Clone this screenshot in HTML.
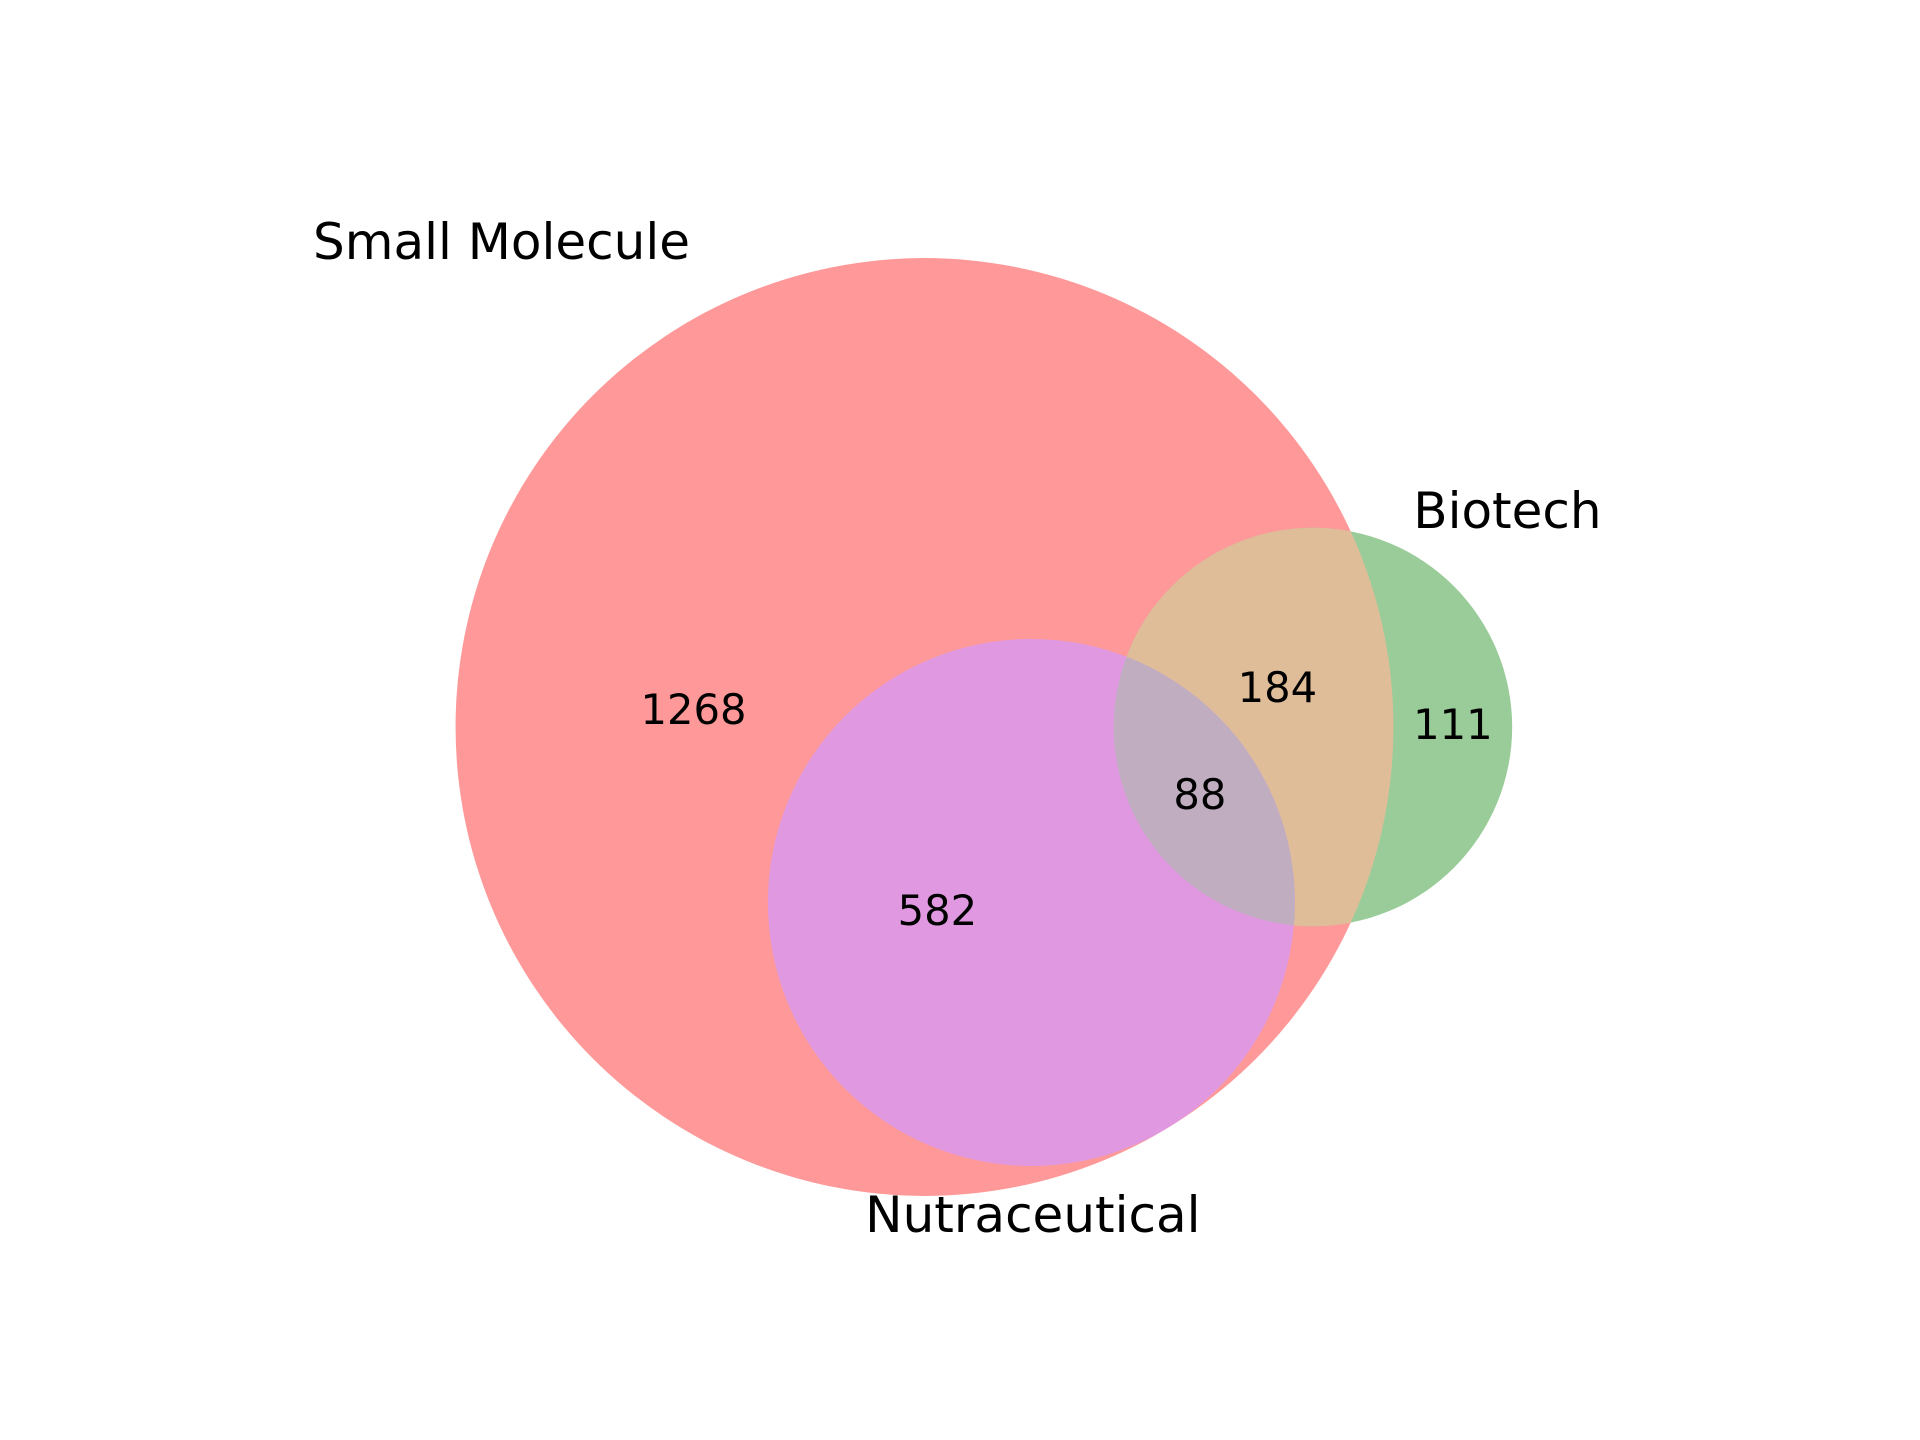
<!DOCTYPE html>
<html lang="en">
<head>
<meta charset="utf-8">
<title>Venn diagram</title>
<style>
html,body{margin:0;padding:0;background:#fff;width:1920px;height:1440px;overflow:hidden}
svg{display:block}
text{font-family:"DejaVu Sans","Liberation Sans",sans-serif;fill:#000}
</style>
</head>
<body>
<svg id="venn" xmlns="http://www.w3.org/2000/svg" width="1920" height="1440" viewBox="0 0 1920 1440"></svg>
<script>
// Chart data: region counts
const setNames = ["Small Molecule", "Biotech", "Nutraceutical"];
const smallMoleculeOnly = 1268;
const biotechOnly = 111;
const smallMoleculeBiotech = 184;
const smallMoleculeNutraceutical = 582;
const allThree = 88;

const svg = document.getElementById('venn');
const NS = 'http://www.w3.org/2000/svg';
const UNIT = 10.18;          // px per sqrt(count)
const ORIGIN_X = 924.5;
const ORIGIN_Y = 727;

function lensArea(r1, r2, d) {
  if (d >= r1 + r2) return 0;
  if (d <= Math.abs(r1 - r2)) return Math.PI * Math.min(r1, r2) ** 2;
  const x1 = (d * d + r1 * r1 - r2 * r2) / (2 * d);
  const x2 = d - x1;
  const seg = (r, x) => r * r * Math.acos(x / r) - x * Math.sqrt(r * r - x * x);
  return seg(r1, x1) + seg(r2, x2);
}
function radiusFor(count) {
  return UNIT * Math.sqrt(count);
}
function distanceFor(r1, r2, overlapCount) {
  const target = overlapCount * Math.PI * UNIT * UNIT;
  let lo = Math.abs(r1 - r2), hi = r1 + r2;
  for (let i = 0; i < 60; i++) {
    const mid = (lo + hi) / 2;
    if (lensArea(r1, r2, mid) > target) lo = mid; else hi = mid;
  }
  return (lo + hi) / 2;
}

const totalA = smallMoleculeOnly + smallMoleculeBiotech + smallMoleculeNutraceutical + allThree;
const totalB = biotechOnly + smallMoleculeBiotech + allThree;
const totalC = smallMoleculeNutraceutical + allThree;

const rA = radiusFor(totalA), rB = radiusFor(totalB), rC = radiusFor(totalC);
const dAB = distanceFor(rA, rB, smallMoleculeBiotech + allThree);
const dAC = distanceFor(rA, rC, smallMoleculeNutraceutical + allThree);
const dBC = distanceFor(rB, rC, allThree);

const A = { x: ORIGIN_X, y: ORIGIN_Y, r: rA };
const B = { x: ORIGIN_X + dAB, y: ORIGIN_Y, r: rB };
const cxOffset = (dAC * dAC + dAB * dAB - dBC * dBC) / (2 * dAB);
const cyOffset = Math.sqrt(Math.max(0, dAC * dAC - cxOffset * cxOffset));
const C = { x: ORIGIN_X + cxOffset, y: ORIGIN_Y + cyOffset, r: rC };

function circle(parent, c, fill, clip) {
  const el = document.createElementNS(NS, 'circle');
  el.setAttribute('cx', c.x);
  el.setAttribute('cy', c.y);
  el.setAttribute('r', c.r);
  if (fill) el.setAttribute('fill', fill);
  if (clip) el.setAttribute('clip-path', 'url(#' + clip + ')');
  parent.appendChild(el);
  return el;
}
function label(str, x, y, size) {
  const el = document.createElementNS(NS, 'text');
  el.setAttribute('x', x);
  el.setAttribute('y', y);
  el.setAttribute('font-size', size);
  el.setAttribute('text-anchor', 'middle');
  el.textContent = str;
  svg.appendChild(el);
  return el;
}

const defs = document.createElementNS(NS, 'defs');
svg.appendChild(defs);
function clipFrom(id, c) {
  const cp = document.createElementNS(NS, 'clipPath');
  cp.setAttribute('id', id);
  circle(cp, c);
  defs.appendChild(cp);
}
clipFrom('clip-a', A);
clipFrom('clip-c', C);

const regionA = circle(svg, A, '#ff9999');



const regionB = circle(svg, B, '#99cc99');



const regionAB = circle(svg, B, '#e0bd99', 'clip-a');



const regionC = circle(svg, C, '#e099e0');



const regionABC = circle(svg, B, '#c0adc0', 'clip-c');



const SET_SIZE = 50;
const COUNT_SIZE = 41.67;

const labelA = label(setNames[0], A.x - 423, A.y - 468, SET_SIZE);



const labelB = label(setNames[1], B.x + 194.5, B.y - 199, SET_SIZE);



const labelC = label(setNames[2], C.x + 1.5, C.y + 329.5, SET_SIZE);



const countA = label(smallMoleculeOnly, A.x - 231, A.y - 3, COUNT_SIZE);



const countB = label(biotechOnly, B.x + 140, B.y + 12, COUNT_SIZE);



const countAB = label(smallMoleculeBiotech, B.x - 35.5, B.y - 25, COUNT_SIZE);



const countAC = label(smallMoleculeNutraceutical, C.x - 94, C.y + 22.5, COUNT_SIZE);



const countABC = label(allThree, C.x + 168.5, C.y - 93.5, COUNT_SIZE);


</script>
</body>
</html>
